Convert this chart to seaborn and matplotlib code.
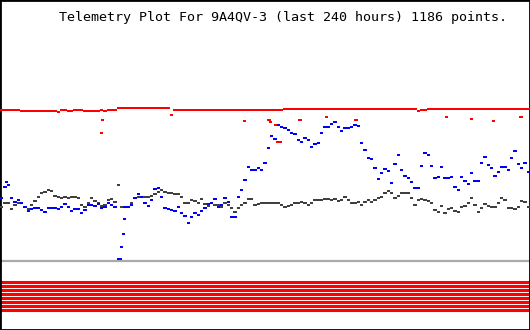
import numpy as np
import pandas as pd
import matplotlib
matplotlib.use("Agg")
import matplotlib.pyplot as plt
from matplotlib.path import Path
from matplotlib.markers import MarkerStyle
import seaborn as sns

# ---------------- data ----------------
TITLE = "Telemetry Plot For 9A4QV-3 (last 240 hours) 1186 points."
HOURS_SPAN = 240
N_SAMPLES = 159  # resampled readings, evenly spaced in time

gray_values = [
    54, 58, 58, 52, 56, 58, 58, 54, 52, 56, 60, 64, 68, 69, 71, 70, 65, 64, 63, 64,
    63, 64, 64, 63, 56, 54, 58, 63, 60, 58, 55, 56, 61, 62, 59, 76, 54, 54, 54, 58,
    63, 64, 64, 64, 64, 65, 67, 69, 71, 69, 68, 68, 67, 67, 64, 58, 58, 61, 60, 58,
    62, 57, 55, 58, 56, 56, 54, 58, 56, 53, 49, 53, 56, 58, 62, 62, 56, 57,
    58, 58, 58, 58, 58, 58, 56, 54, 55, 56, 58, 58, 59, 58, 56, 58, 61, 61, 61, 62,
    62, 61, 62, 60, 61, 64, 61, 58, 58, 59, 56, 59, 61, 59, 61, 63, 64, 68, 70, 68,
    63, 65, 68, 68, 68, 63, 56, 61, 62, 61, 60, 58, 51, 49, 55, 48, 52, 53, 50, 49,
    54, 55, 58, 63, 56, 49, 53, 57, 55, 54, 54, 58, 63, 61, 53, 53, 52, 54, 60, 59, 54,
]

blue_values = [
    63, 74, 76, 63, 59, 61, 58, 54, 50, 52, 53, 53, 51, 49, 53, 53, 53, 52, 54, 57,
    54, 50, 52, 52, 48, 51, 56, 56, 55, 57, 53, 54, 58, 56, 54, 2, 14, 54, 54, 56,
    63, 67, 64, 58, 55, 61, 72, 73, 64, 53, 52, 51, 50, 54, 48, 45, 38, 44, 48, 46,
    50, 53, 57, 58, 62, 54, 56, 63, 59, 44, 44, 64, 71, 81, 94, 91, 91, 93,
    91, 98, 113, 125, 122, 136, 134, 133, 131, 128, 127, 121, 119, 123, 121, 114, 117, 118, 128, 134,
    134, 137, 139, 134, 130, 133, 133, 134, 136, 135, 118, 111, 103, 102, 93, 82, 88, 92, 90, 78,
    97, 106, 91, 85, 83, 79, 73, 73, 95, 108, 106, 95, 83, 84, 94, 83, 83, 84, 74, 71,
    84, 80, 77, 88, 80, 80, 98, 104, 96, 93, 85, 89, 94, 94, 91, 103, 110, 97, 93, 98, 89,
]

red_values = (
    [151] * 6 + [150] * 11 + [149] + [151] * 2 + [150] * 2 + [151] * 3 + [150] * 5
    + [151] + [150] + [151] * 3 + [153] * 16 + [146] + [151] * 26
    + [151] * 7 + [152] * 40 + [150] + [151] * 2 + [152] * 31
)

# isolated readings (hours, value)
blue_extra_hours = [3.0, 54.3, 55.8, 56.3]
blue_extra_values = [79, 2, 27, 42]
red_extra_hours = [45.9, 46.5, 110.6, 121.9, 122.6, 124.8, 125.6, 126.8,
                   135.8, 147.9, 161.2, 202.3, 213.6, 223.4, 235.9]
red_extra_values = [128, 141, 140, 141, 139, 136, 119, 119,
                    141, 144, 141, 144, 142, 140, 144]

bit_states = [1, 1, 1, 1, 1, 1, 1, 1]

# ---------------- build table ----------------
hours = (np.arange(N_SAMPLES) + 0.5) * HOURS_SPAN / N_SAMPLES
frames = [
    pd.DataFrame({"hours": hours, "value": red_values, "series": "red"}),
    pd.DataFrame({"hours": red_extra_hours, "value": red_extra_values, "series": "red"}),
    pd.DataFrame({"hours": hours, "value": gray_values, "series": "gray"}),
    pd.DataFrame({"hours": hours, "value": blue_values, "series": "blue"}),
    pd.DataFrame({"hours": blue_extra_hours, "value": blue_extra_values, "series": "blue"}),
]
df = pd.concat(frames, ignore_index=True)
palette = {"red": "#ff0000", "gray": "#404040", "blue": "#0000ff"}

# ---------------- draw ----------------
sns.set_style("white")
plt.rcParams["font.family"] = ["DejaVu Sans Mono", "DejaVu Sans"]

fig = plt.figure(figsize=(5.3, 3.3), dpi=100)
ax = fig.add_axes([0, 0, 1, 1])

ax.axhline(0, color="#aaaaaa", lw=1.6, zorder=1)

for k, state in enumerate(bit_states):
    if state:
        ax.hlines(-20.5 - 4 * k, 0, HOURS_SPAN, color="#ff0000", lw=2.2, zorder=1)

rect = MarkerStyle(Path([(-1, -0.6), (1, -0.6), (1, 0.6), (-1, 0.6), (-1, -0.6)], closed=True))
sns.scatterplot(data=df, x="hours", y="value", hue="series", palette=palette,
                marker=rect, s=6, linewidth=0, legend=False, ax=ax, zorder=3)

ax.set_xlim(0, HOURS_SPAN)
ax.set_ylim(-69, 261)
ax.set_xticks([])
ax.set_yticks([])
ax.set_xlabel("")
ax.set_ylabel("")
for sp in ax.spines.values():
    sp.set_visible(True)
    sp.set_color("black")
    sp.set_linewidth(2)

fig.text(59 / 530, 1 - 17 / 330, TITLE, fontsize=9.6, va="center", ha="left",
         color="black")

fig.savefig("out.png", dpi=100)
